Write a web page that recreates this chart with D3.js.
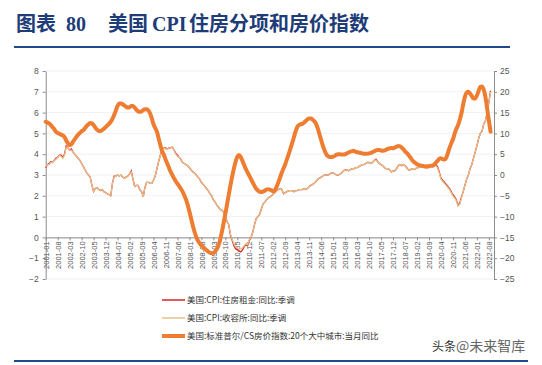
<!DOCTYPE html>
<html><head><meta charset="utf-8">
<script src="https://cdn.jsdelivr.net/npm/d3@7/dist/d3.min.js"></script>
<style>body{margin:0;background:#fff}svg{display:block}</style>
</head><body>
<script>
// ---------- data ----------
const firstMonth = [2001, 1];
const monthCount = 261; // 2001-01 .. 2022-09
const labelStep = 7;

// 美国:CPI:住房租金:同比:季调 (%)
const rent = [
 3.35,3.5,3.55,3.65,3.6,3.7,3.8,3.85,3.95,3.95,3.85,4.0,
 4.4,4.3,4.2,4.25,4.1,4.0,3.9,3.8,3.7,3.55,3.4,3.25,
 3.1,3.0,2.9,2.5,2.2,2.35,2.4,2.3,2.25,2.3,2.2,2.15,
 2.1,2.05,2.0,2.6,2.95,2.95,3.0,2.95,3.0,2.9,2.85,2.9,
 2.95,3.05,3.2,2.8,2.45,2.5,2.5,2.3,2.2,1.95,2.4,2.65,
 2.65,2.6,2.6,2.75,2.95,3.3,3.65,3.95,4.25,4.3,4.3,4.25,
 4.3,4.3,4.35,4.2,4.05,3.95,3.85,3.75,3.6,3.55,3.5,3.45,
 3.35,3.25,3.15,3.1,3.0,2.9,2.8,2.65,2.55,2.45,2.35,2.25,
 2.1,2.0,1.8,1.7,1.55,1.45,1.35,1.3,1.2,1.0,0.75,0.6,
 0.1,-0.15,-0.4,-0.55,-0.6,-0.65,-0.7,-0.6,-0.45,-0.35,-0.4,-0.15,
 0.0,0.25,0.6,0.9,1.0,1.1,1.35,1.6,1.7,1.8,1.9,1.95,
 2.0,2.1,2.15,2.25,2.3,2.35,2.3,2.1,2.15,2.2,2.25,2.25,
 2.25,2.2,2.25,2.25,2.3,2.3,2.3,2.35,2.3,2.35,2.45,2.5,
 2.55,2.6,2.7,2.8,2.85,2.9,2.95,3.0,3.0,3.0,3.05,3.1,
 3.1,3.05,3.0,3.0,3.05,3.1,3.2,3.25,3.25,3.2,3.25,3.3,
 3.3,3.35,3.35,3.4,3.45,3.5,3.5,3.55,3.6,3.6,3.55,3.6,
 3.7,3.76,3.65,3.55,3.5,3.45,3.35,3.3,3.3,3.25,3.15,3.2,
 3.2,3.3,3.45,3.5,3.45,3.5,3.45,3.35,3.25,3.25,3.3,3.3,
 3.3,3.35,3.35,3.4,3.4,3.4,3.45,3.5,3.5,3.45,3.4,3.45,
 3.5,3.4,3.15,2.85,2.75,2.65,2.55,2.45,2.35,2.2,2.05,1.95,
 1.8,1.55,1.65,1.95,2.2,2.5,2.8,3.0,3.3,3.5,3.8,4.1,
 4.4,4.75,5.0,5.1,5.45,5.6,6.0,6.5,7.05
];

// 美国:CPI:收容所:同比:季调 (%)
const shelter = [
 3.4,3.5,3.5,3.6,3.6,3.7,3.75,3.85,3.95,3.9,3.8,3.95,
 4.35,4.3,4.2,4.2,4.1,4.0,3.9,3.8,3.7,3.55,3.4,3.25,
 3.1,3.0,2.9,2.5,2.2,2.35,2.4,2.3,2.25,2.3,2.2,2.15,
 2.1,2.05,2.0,2.6,2.9,2.95,3.0,2.95,3.0,2.9,2.85,2.9,
 2.95,3.05,3.15,2.8,2.45,2.5,2.5,2.3,2.2,1.95,2.4,2.65,
 2.65,2.6,2.6,2.75,2.95,3.3,3.65,3.95,4.2,4.3,4.25,4.25,
 4.3,4.3,4.35,4.2,4.0,3.9,3.85,3.75,3.6,3.55,3.5,3.45,
 3.35,3.25,3.15,3.1,3.0,2.9,2.8,2.65,2.55,2.45,2.35,2.25,
 2.1,2.0,1.8,1.7,1.55,1.45,1.35,1.3,1.2,1.0,0.75,0.6,
 0.15,-0.1,-0.3,-0.45,-0.5,-0.55,-0.55,-0.5,-0.4,-0.3,-0.35,-0.1,
 0.0,0.25,0.6,0.9,1.0,1.1,1.35,1.6,1.7,1.8,1.9,1.95,
 2.0,2.1,2.15,2.25,2.3,2.35,2.3,2.1,2.15,2.2,2.25,2.25,
 2.25,2.2,2.25,2.25,2.3,2.3,2.3,2.35,2.3,2.35,2.45,2.5,
 2.55,2.6,2.7,2.8,2.85,2.9,2.95,3.0,3.0,3.0,3.05,3.1,
 3.1,3.05,3.0,3.0,3.05,3.1,3.2,3.25,3.25,3.2,3.25,3.3,
 3.3,3.35,3.35,3.4,3.45,3.5,3.5,3.55,3.6,3.6,3.55,3.6,
 3.7,3.72,3.65,3.55,3.5,3.45,3.35,3.3,3.3,3.25,3.15,3.2,
 3.2,3.3,3.45,3.5,3.45,3.5,3.45,3.35,3.25,3.25,3.3,3.3,
 3.3,3.35,3.35,3.4,3.4,3.4,3.45,3.5,3.5,3.45,3.4,3.45,
 3.45,3.35,3.1,2.8,2.7,2.6,2.5,2.4,2.3,2.15,2.0,1.9,
 1.75,1.5,1.6,1.9,2.2,2.5,2.8,3.0,3.3,3.5,3.8,4.1,
 4.4,4.75,5.0,5.1,5.45,5.6,6.0,6.5,7.0
];

// 美国:标准普尔/CS房价指数:20个大中城市:当月同比 (%), right axis
const hpi = [
 12.8,12.6,12.4,12.0,11.5,11.0,10.4,10.1,9.9,9.7,9.5,9.1,
 8.3,7.6,7.2,7.4,8.0,8.6,9.2,9.7,10.1,10.5,10.8,11.3,
 11.8,12.2,12.5,12.4,12.0,11.4,10.9,10.6,10.6,10.8,11.1,11.5,
 11.9,12.3,12.8,13.5,14.4,15.5,16.6,17.2,17.2,17.0,16.7,16.4,
 16.2,16.3,16.6,16.6,16.2,15.7,15.3,15.2,15.3,15.6,15.8,15.8,
 15.5,14.8,13.6,12.2,11.3,10.4,8.8,7.2,5.8,4.9,3.8,2.8,
 1.8,0.8,0.0,-0.8,-1.5,-2.1,-2.7,-3.3,-4.0,-4.9,-5.9,-7.2,
 -8.8,-10.5,-12.2,-13.7,-14.9,-15.8,-16.4,-16.9,-17.3,-17.7,-18.1,-18.4,
 -18.7,-18.8,-18.7,-18.4,-17.8,-16.9,-15.5,-13.6,-11.5,-9.3,-7.0,-4.7,
 -2.4,-0.3,1.6,3.2,4.4,4.8,4.3,3.4,2.4,1.4,0.6,-0.2,
 -1.0,-1.8,-2.6,-3.3,-3.7,-4.0,-4.1,-4.0,-3.8,-3.5,-3.4,-3.5,
 -3.7,-3.9,-3.6,-2.8,-1.7,-0.6,0.6,1.6,2.6,3.8,5.0,6.3,
 7.6,9.0,10.4,11.5,12.0,12.2,12.3,12.6,13.0,13.4,13.6,13.6,
 13.3,12.9,12.3,11.2,9.8,8.4,7.0,5.9,5.0,4.5,4.3,4.3,
 4.4,4.6,4.9,5.0,5.0,4.9,4.9,5.0,5.2,5.4,5.6,5.7,
 5.8,5.6,5.5,5.4,5.3,5.2,5.1,5.1,5.1,5.2,5.3,5.5,
 5.7,5.9,6.0,6.0,5.9,5.8,5.9,6.1,6.3,6.4,6.5,6.4,
 6.6,6.8,7.0,6.9,6.6,6.2,5.7,5.3,4.8,4.3,3.7,3.2,
 2.9,2.6,2.4,2.3,2.2,2.1,2.0,2.0,2.1,2.2,2.2,2.5,
 2.9,3.4,3.9,4.0,3.8,3.7,4.1,5.2,6.5,7.6,8.6,9.9,
 11.1,12.0,13.3,14.9,17.0,18.8,19.8,20.0,19.6,19.0,18.4,18.4,
 19.1,20.2,21.2,21.3,20.5,18.7,16.0,13.1,10.4
];

const leftTicks = [8,7,6,5,4,3,2,1,0,-1,-2];
const rightTicks = [25,20,15,10,5,0,-5,-10,-15,-20,-25];
const seriesNames = ["美国:CPI:住房租金:同比:季调","美国:CPI:收容所:同比:季调","美国:标准普尔/CS房价指数:20个大中城市:当月同比"];
const seriesColors = ["#d8232a","#e6bf86","#ee7d31"];

// categories
const categories = d3.range(monthCount).map(i => {
  const m = firstMonth[1] - 1 + i;
  const y = firstMonth[0] + Math.floor(m / 12);
  return y + "-" + String(m % 12 + 1).padStart(2, "0");
});

// ---------- drawing ----------
const W = 542, H = 365;
const svg = d3.select("body").append("svg").attr("width", W).attr("height", H)
  .style("background", "#fff");

// title
const tFont = "'Noto Sans CJK SC','Noto Sans CJK JP',sans-serif";
const sFont = "'Liberation Serif','DejaVu Serif',serif";
const titleColor = "#1d3c78";
const titleParts = [
  {t:"图表", x:16, f:tFont},
  {t:"80", x:66, f:sFont},
  {t:"美国", x:108, f:tFont},
  {t:"CPI", x:152, f:sFont},
  {t:"住房分项和房价指数", x:189, f:tFont}
];
svg.selectAll("text.title").data(titleParts).join("text")
  .attr("class","title").attr("x", d => d.x).attr("y", 31)
  .attr("font-family", d => d.f).attr("font-weight", "bold")
  .attr("font-size", 20).attr("fill", titleColor).text(d => d.t);

svg.append("line").attr("x1", 14).attr("x2", 510).attr("y1", 47).attr("y2", 47)
  .attr("stroke", "#1f4a8c").attr("stroke-width", 2);
svg.append("line").attr("x1", 14).attr("x2", 528).attr("y1", 361).attr("y2", 361)
  .attr("stroke", "#1f4a8c").attr("stroke-width", 2);

// scales
const x = d3.scaleLinear().domain([0, 262]).range([45.7, 494]);
const yL = d3.scaleLinear().domain([-2, 8]).range([279, 71]);
const yR = d3.scaleLinear().domain([-25, 25]).range([279, 71]);

// faint gridlines
svg.append("g").selectAll("line").data(leftTicks).join("line")
  .attr("x1", 46).attr("x2", 494)
  .attr("y1", d => yL(d)).attr("y2", d => yL(d))
  .attr("stroke", "#f1f1f1").attr("stroke-width", 1);

const axisColor = "#8c8c8c";
const labelColor = "#555";
function styleAxis(g) {
  g.select(".domain").attr("stroke", axisColor);
  g.selectAll(".tick line").attr("stroke", axisColor);
  g.selectAll(".tick text").attr("fill", labelColor)
    .attr("font-family", "'Liberation Sans',Arial,sans-serif");
}

// left axis
svg.append("g").attr("transform", `translate(${x(0)},0)`)
  .call(d3.axisLeft(yL).tickValues(leftTicks).tickSize(3).tickSizeOuter(0).tickPadding(4)
    .tickFormat(d3.format("d")))
  .call(styleAxis)
  .call(g => g.selectAll(".tick text").attr("font-size", 8.5));

// right axis
svg.append("g").attr("transform", `translate(494,0)`)
  .call(d3.axisRight(yR).tickValues(rightTicks).tickSize(3).tickSizeOuter(0).tickPadding(3)
    .tickFormat(d3.format("d")))
  .call(styleAxis)
  .call(g => g.selectAll(".tick text").attr("font-size", 8.5));

// x axis at y = 0
const xTicks = d3.range(0, 260, labelStep);
svg.append("g").attr("transform", `translate(0,${yL(0)})`)
  .call(d3.axisBottom(x).tickValues(xTicks).tickSize(3).tickSizeOuter(0)
    .tickFormat(i => categories[i]))
  .call(styleAxis)
  .call(g => g.selectAll(".tick text")
    .attr("font-size", 7.5)
    .attr("transform", "rotate(-90)")
    .attr("x", -4).attr("y", 0).attr("dy", "0.35em")
    .style("text-anchor", "end"));

// lines
const lineL = d3.line().x((d, i) => x(i)).y(d => yL(d));
const lineR = d3.line().x((d, i) => x(i)).y(d => yR(d)).curve(d3.curveMonotoneX);

svg.append("path").datum(rent).attr("d", lineL)
  .attr("fill", "none").attr("stroke", seriesColors[0]).attr("stroke-width", 1.3);
svg.append("path").datum(shelter).attr("d", lineL)
  .attr("fill", "none").attr("stroke", seriesColors[1]).attr("stroke-width", 1.3);
svg.append("path").datum(hpi).attr("d", lineR)
  .attr("fill", "none").attr("stroke", seriesColors[2]).attr("stroke-width", 4)
  .attr("stroke-linejoin", "round").attr("stroke-linecap", "round");

// legend
const legendY = [300, 318, 336];
const legendW = [1.5, 1.5, 4];
const lg = svg.append("g");
seriesNames.forEach((name, i) => {
  lg.append("line").attr("x1", 162).attr("x2", 185)
    .attr("y1", legendY[i]).attr("y2", legendY[i])
    .attr("stroke", seriesColors[i]).attr("stroke-width", legendW[i]);
  lg.append("text").attr("x", 187).attr("y", legendY[i]).attr("dy", "0.35em")
    .attr("font-family", tFont).attr("font-size", 8.5).attr("fill", "#333")
    .text(name);
});

// watermark
svg.append("text").attr("x", 432).attr("y", 351)
  .attr("font-family", tFont).attr("font-size", 12).attr("fill", "#333").text("头条");
svg.append("text").attr("x", 456).attr("y", 351)
  .attr("font-family", tFont).attr("font-size", 14).attr("fill", "#666").text("@未来智库");
</script>
</body></html>
